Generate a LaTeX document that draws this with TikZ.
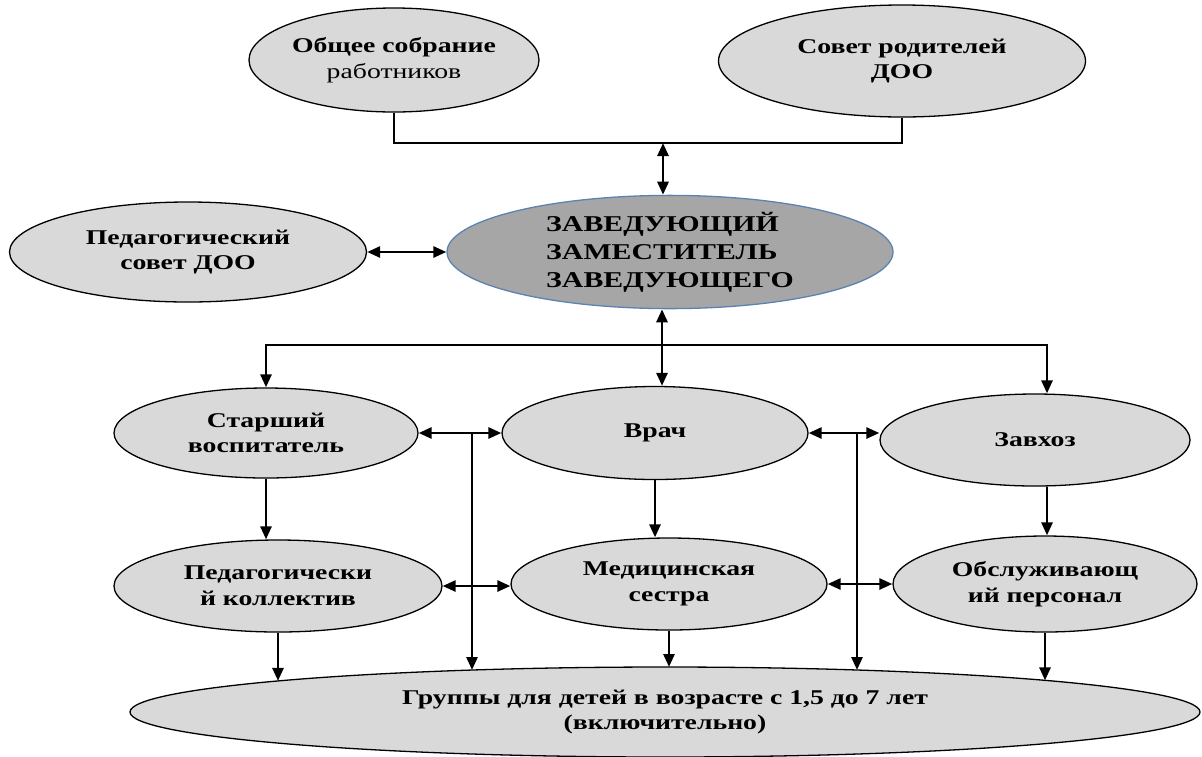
\documentclass[tikz,border=0pt]{standalone}
\usepackage{fontspec}
\setmainfont{Liberation Serif}[FakeStretch=1.32]
\usetikzlibrary{arrows.meta,shapes.geometric}
\definecolor{lightg}{HTML}{D9D9D9}
\definecolor{darkg}{HTML}{A6A6A6}
\definecolor{zavborder}{HTML}{5B83B1}
\tikzset{
  org/.style={ellipse, draw=black, line width=0.65pt, fill=lightg, inner sep=0pt,
    align=center, font=\bfseries\fontsize{10.5}{12.8}\selectfont},
  conn/.style={line width=1.35pt},
  arr/.style={conn, -{Triangle[length=6.5pt,width=5.5pt]}},
  darr/.style={conn, {Triangle[length=6.5pt,width=5.5pt]}-{Triangle[length=6.5pt,width=5.5pt]}}
}
\begin{document}
\begin{tikzpicture}[x=0.5pt,y=-0.5pt]
\useasboundingbox (0,0) rectangle (1202,756);
% nodes
\node[org, minimum width=145pt, minimum height=52pt] (obs) at (394,60) {Общее собрание\\{\mdseries работников}};
\node[org, minimum width=183.5pt, minimum height=56pt] (sov) at (902,61) {Совет родителей\\ДОО};
\node[org, minimum width=178.5pt, minimum height=50pt] (ped) at (188,252) {Педагогический\\совет ДОО};
\node[org, draw=zavborder, fill=darkg, minimum width=223pt, minimum height=48pt,
      align=left, font=\bfseries\fontsize{11.3}{14}\selectfont] (zav) at (670,252)
      {ЗАВЕДУЮЩИЙ\\ЗАМЕСТИТЕЛЬ\\ЗАВЕДУЮЩЕГО};
\node[org, minimum width=152pt, minimum height=45pt] (star) at (266,433) {Старший\\воспитатель};
\node[org, minimum width=153pt, minimum height=46.5pt] (vrach) at (655,433) {Врач};
\node[org, minimum width=155pt, minimum height=46pt] (zavhoz) at (1035,440) {Завхоз};
\node[org, minimum width=164pt, minimum height=46pt] (pedk) at (278,586) {Педагогически\\й коллектив};
\node[org, minimum width=158pt, minimum height=46pt] (med) at (669,584) {Медицинская\\сестра};
\node[org, minimum width=152pt, minimum height=48pt] (obsl) at (1045,584) {Обслуживающ\\ий персонал};
\node[org, minimum width=535pt, minimum height=45pt] (grp) at (665,712) {Группы для детей в возрасте с 1,5 до 7 лет\\(включительно)};
% junction coordinates
\coordinate (j1) at (663,143);
\coordinate (j2) at (662,345);
\coordinate (v1) at (472,433);
\coordinate (v2) at (857,433);
\coordinate (g1) at (278,680.9);
\coordinate (g2) at (472,670);
\coordinate (g3) at (669,667);
\coordinate (g4) at (857,670);
\coordinate (g5) at (1045,680.4);
% connectors
\draw[conn] (obs.south) |- (j1) -| (sov.south);
\draw[darr] (j1) -- (j1 |- zav.north);
\draw[darr] (ped.east) -- (ped.east -| zav.west);
\draw[darr] (j2 |- zav.south) -- (j2 |- vrach.north);
\draw[arr] (j2) -| (star.north);
\draw[arr] (j2) -| ([xshift=6pt]zavhoz.north);
\draw[arr] (star.south) -- (star.south |- pedk.north);
\draw[arr] (vrach.south) -- (vrach.south |- med.north);
\draw[arr] ([xshift=6pt]zavhoz.south) -- ([xshift=6pt]zavhoz.south |- obsl.north);
\draw[darr] (star.east) -- (vrach.west);
\draw[darr] (vrach.east) -- (vrach.east -| zavhoz.west);
\draw[darr] (pedk.east) -- (pedk.east -| med.west);
\draw[darr] (med.east) -- (obsl.west);
\draw[arr] (v1) -- (g2);
\draw[arr] (v2) -- (g4);
\draw[arr] (pedk.south) -- (g1);
\draw[arr] (med.south) -- (g3);
\draw[arr] (obsl.south) -- (g5);
\end{tikzpicture}
\end{document}
